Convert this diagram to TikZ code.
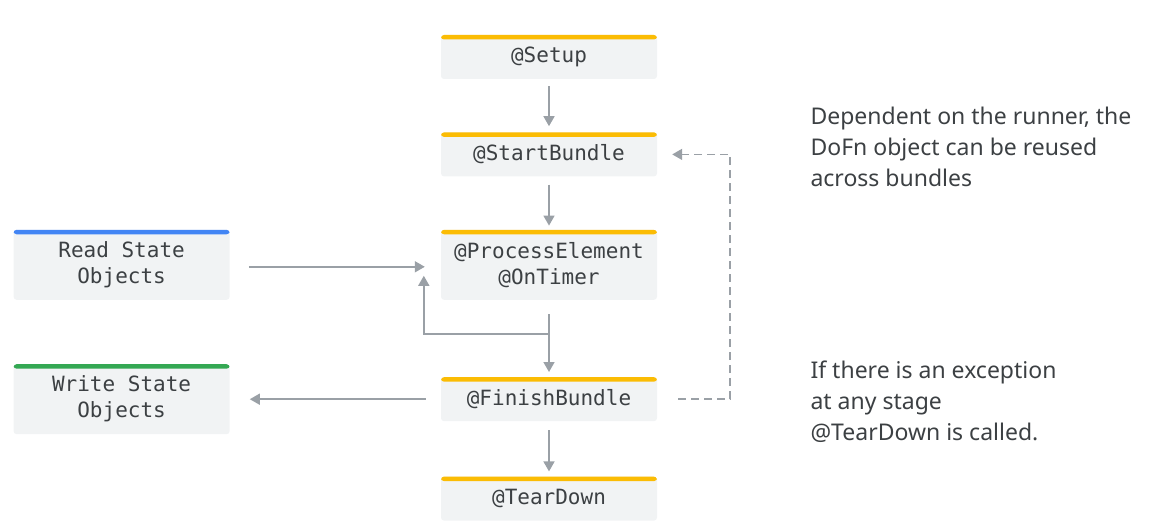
\documentclass[tikz,border=0pt]{standalone}
\usepackage{fontspec}
\newfontfamily\monofont{DejaVu Sans Mono}
\newfontfamily\notefont{Noto Sans}
\usetikzlibrary{positioning, arrows.meta}
\definecolor{gold}{HTML}{FBBC04}
\definecolor{blueline}{HTML}{4285F4}
\definecolor{greenline}{HTML}{34A853}
\definecolor{boxgray}{HTML}{F1F3F4}
\definecolor{ink}{HTML}{3C4043}
\definecolor{wire}{HTML}{9AA0A6}

\begin{document}
\begin{tikzpicture}
[x=1pt, y=1pt,
 node distance=53pt,
 >={Triangle[width=11pt,length=10pt]},
 stage/.style={fill=boxgray, rounded corners=3pt, minimum width=216pt,
   minimum height=44pt, inner sep=0pt, align=center, text=ink,
   font=\monofont\fontsize{21}{26}\selectfont,
   path picture={\fill[#1] (path picture bounding box.north west)
     rectangle ([yshift=-4.5pt]path picture bounding box.north east);}},
 stage/.default=gold,
 flow/.style={->, draw=wire, line width=1.6pt},
 note/.style={anchor=base west, align=left, text=ink,
   font=\notefont\fontsize{23}{31}\selectfont}
]
\useasboundingbox (0,0) rectangle (1158,-526);

\node[stage] (setup) at (549,-57) {@Setup};
\node[stage, below=of setup] (start) {@StartBundle};
\node[stage, below=of start, minimum height=70pt] (process) {@ProcessElement\\@OnTimer};
\node[stage, below=77pt of process] (finish) {@FinishBundle};
\node[stage, below=55pt of finish] (teardown) {@TearDown};
\node[stage=blueline, minimum height=70pt, left=211pt of process] (read) {Read State\\Objects};
\node[stage=greenline, minimum height=70pt, left=211pt of finish] (write) {Write State\\Objects};

% main sequence
\draw[flow] ([yshift=-7pt]setup.south) -- ([yshift=6pt]start.north);
\draw[flow] ([yshift=-8pt]start.south) -- ([yshift=4pt]process.north);
\draw[flow] ([yshift=-14pt]process.south) -- ([yshift=5pt]finish.north);
\draw[flow] ([yshift=-9pt]finish.south) -- ([yshift=5pt]teardown.north);
% loop back for each element
\draw[flow] ([yshift=-34pt]process.south) -| ([xshift=-17pt,yshift=-11pt]process.west);
% state
\draw[flow] ([xshift=19pt,yshift=-2pt]read.east) -- ([xshift=-16pt,yshift=-2pt]process.west);
\draw[flow] ([xshift=-15pt]finish.west) -- ([xshift=20pt]finish.west -| write.east);
% reuse across bundles
\draw[flow, dash pattern=on 8pt off 5pt] ([xshift=21pt]finish.east)
  -| ([xshift=73pt]start.east) -- ([xshift=15pt]start.east);

\node[note] (reuse) at (807,-187) {Dependent on the runner, the\\DoFn object can be reused\\across bundles};
\node[note] (failure) at (807,-440) {If there is an exception\\at any stage\\@TearDown is called.};
\end{tikzpicture}
\end{document}
